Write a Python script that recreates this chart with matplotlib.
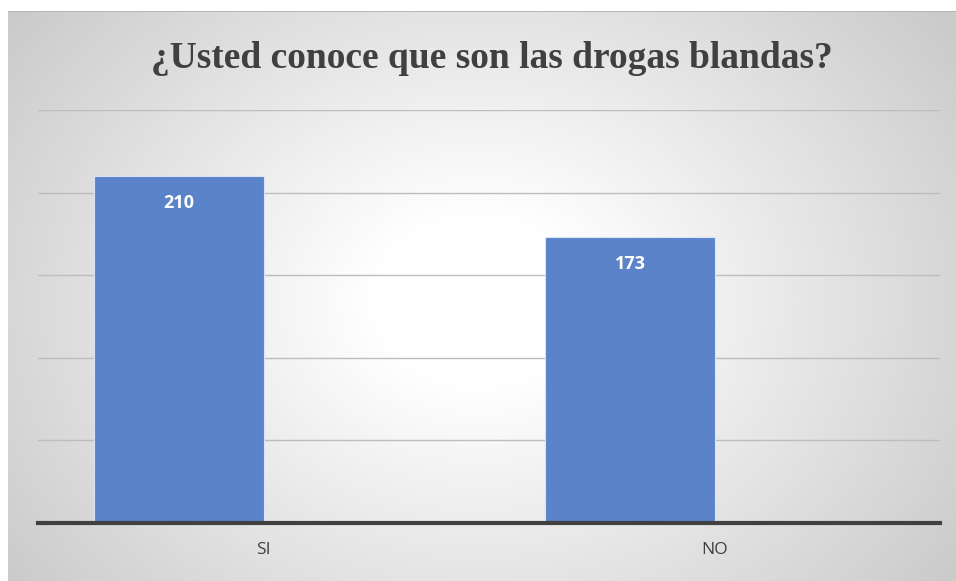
import numpy as np
import matplotlib.pyplot as plt

categories = ['SI', 'NO']
values = [210, 173]
title = '¿Usted conoce que son las drogas blandas?'

fig = plt.figure(figsize=(9.56, 5.81), dpi=100)

# radial gradient background (white centre, grey edges)
bg = fig.add_axes([8/956, 0, 948/956, 570/581], zorder=0)
yy, xx = np.mgrid[0:570, 0:948]
r = np.sqrt(((xx - 470) / 520.0) ** 2 + ((yy - 290) / 420.0) ** 2)
shade = 1.0 - 0.2 * np.clip((r - 0.2) / 0.9, 0, 1)
bg.imshow(np.dstack([shade] * 3), aspect='auto', extent=[0, 1, 0, 1])
bg.plot([0, 1], [1, 1], color='#b0b0b0', lw=1.2, transform=bg.transAxes)
bg.axis('off')

ax = fig.add_axes([38/956, 1 - 523/581, 902/956, (523 - 110)/581], zorder=1)
ax.patch.set_alpha(0)
x = np.arange(len(categories))
bars = ax.bar(x, values, width=-0.375, align='edge', color='#5B83CA',
              edgecolor='#dbe4f3', linewidth=0.8, zorder=2)
for b, v in zip(bars, values):
    ax.text(b.get_x() + b.get_width() / 2, v - 16, str(v), ha='center', va='center',
            color='white', fontsize=13, fontweight='bold', family='Open Sans', zorder=3)

ax.set_xlim(-0.5, 1.5)
ax.set_ylim(0, 250)
ax.set_yticks([0, 50, 100, 150, 200, 250])
ax.yaxis.grid(True, color='#bdbdbd', lw=1.0)
ax.set_axisbelow(True)
ax.tick_params(axis='y', left=False, labelleft=False)
ax.tick_params(axis='x', length=0, pad=14, labelsize=12.5, colors='#404040')
ax.set_xticks(x)
ax.set_xticklabels(categories, family='Open Sans')
for s in ['top', 'right', 'left']:
    ax.spines[s].set_visible(False)
ax.spines['bottom'].set_color('#404040')
ax.spines['bottom'].set_linewidth(3)
ax.spines['bottom'].set_zorder(4)

fig.text(492/956, 1 - 58/581, title, ha='center', va='center', fontsize=27,
         fontweight='bold', family='Liberation Serif', color='#404040')

fig.savefig('out.png', dpi=100)
